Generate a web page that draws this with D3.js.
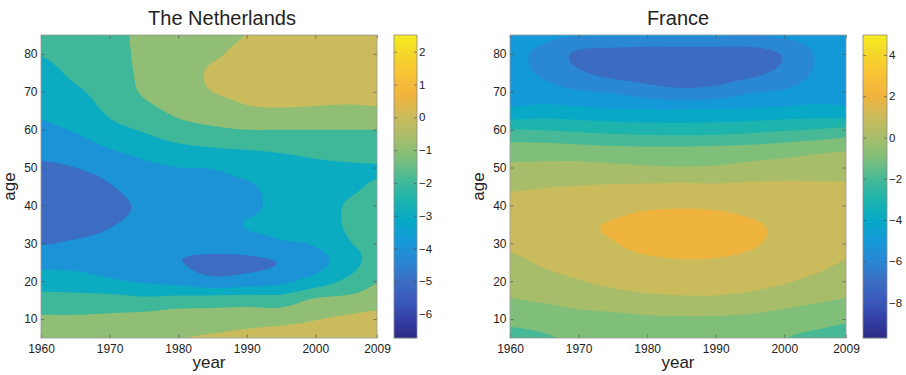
<!DOCTYPE html>
<html><head><meta charset="utf-8">
<script src="https://cdn.jsdelivr.net/npm/d3@7"></script>
<style>
body{margin:0;background:#fff}
svg{display:block}
text{font-family:"Liberation Sans",Arial,Helvetica,sans-serif;fill:#222}
</style>
</head><body>
<svg id="c" width="906" height="375"></svg>
<script>
// ---------- data ----------
const years = [1960,1965,1970,1975,1980,1985,1990,1995,2000,2005,2009];
const ages  = [5,10,15,20,25,30,35,40,45,50,55,60,65,70,75,80,85];
const xTickValues = [1960,1970,1980,1990,2000,2009];
const yTickValues = [10,20,30,40,50,60,70,80];
const nlColorTicks = [-6,-5,-4,-3,-2,-1,0,1,2];
const frColorTicks = [-8,-6,-4,-2,0,2,4];
const nlColorRange = [-6.73, 2.51];
const frColorRange = [-9.72, 4.97];

// one array per year (values over ages 5..85)
const nlValues = [
  [-0.4,-0.85,-1.6,-2.5,-3.3,-4.05,-4.4,-4.55,-4.45,-4.15,-3.7,-3.2,-2.85,-2.6,-2.35,-1.95,-1.6],
  [-0.45,-0.85,-1.65,-2.55,-3.35,-3.9,-4.3,-4.45,-4.3,-4.0,-3.5,-2.9,-2.5,-2.15,-1.8,-1.5,-1.3],
  [-0.45,-0.8,-1.6,-2.85,-3.5,-3.8,-4.05,-4.25,-4.05,-3.7,-3.0,-2.3,-1.85,-1.6,-1.5,-1.4,-1.35],
  [-0.4,-0.65,-1.75,-3.1,-3.6,-3.75,-3.8,-3.85,-3.6,-3.25,-2.6,-1.9,-1.3,-0.9,-0.8,-0.75,-0.7],
  [-0.05,-0.45,-1.6,-3.3,-3.95,-3.7,-3.6,-3.55,-3.35,-3.0,-2.25,-1.38,-0.8,-0.45,-0.4,-0.3,-0.25],
  [0.1,-0.55,-1.5,-3.7,-4.3,-3.5,-3.55,-3.5,-3.35,-2.95,-2.05,-1.15,-0.5,0.0,0.1,-0.1,-0.2],
  [0.3,-0.45,-1.45,-3.55,-4.2,-3.4,-2.95,-3.3,-3.15,-2.6,-1.95,-1.0,-0.15,0.2,0.3,0.2,0.02],
  [0.5,-0.35,-1.5,-3.25,-3.95,-3.1,-2.75,-2.65,-2.6,-2.35,-1.85,-1.0,-0.1,0.3,0.4,0.4,0.35],
  [0.65,-0.05,-0.85,-2.55,-3.4,-2.9,-2.6,-2.45,-2.4,-2.2,-1.7,-1.0,-0.15,0.3,0.45,0.5,0.5],
  [0.8,0.2,-0.7,-1.75,-2.4,-2.05,-1.85,-1.9,-2.15,-2.1,-1.6,-1.0,-0.2,0.3,0.5,0.55,0.55],
  [0.95,0.4,-0.5,-1.05,-1.6,-1.75,-1.5,-1.6,-1.9,-2.05,-1.6,-1.0,-0.15,0.35,0.5,0.55,0.55]
];
const frValues = [
  [-1.35,-0.69,-0.06,0.36,0.76,1.2,1.5,1.3,0.85,0.2,-0.6,-1.97,-3.8,-4.45,-4.75,-4.8,-4.55],
  [-1.12,-0.5,0.1,0.65,1.15,1.55,1.75,1.5,0.95,0.25,-0.6,-2.05,-3.6,-4.6,-5.15,-5.25,-4.8],
  [-0.75,-0.3,0.3,0.95,1.45,1.8,1.9,1.65,1.03,0.3,-0.7,-2.2,-3.7,-4.9,-5.85,-6.2,-4.95],
  [-0.6,-0.25,0.5,1.25,1.7,1.97,2.05,1.7,1.1,0.2,-0.8,-2.35,-3.85,-5.1,-6.3,-6.45,-4.9],
  [-0.55,-0.15,0.7,1.45,1.85,2.2,2.3,1.85,1.15,0.1,-0.85,-2.45,-3.9,-5.5,-6.5,-6.6,-4.9],
  [-0.5,-0.12,0.8,1.5,1.92,2.35,2.4,1.9,1.2,0.05,-0.85,-2.5,-3.9,-5.75,-6.6,-6.6,-4.9],
  [-0.5,-0.12,0.8,1.5,1.9,2.33,2.35,1.85,1.15,0.1,-0.8,-2.45,-3.85,-5.6,-6.5,-6.6,-4.9],
  [-0.55,-0.2,0.65,1.35,1.75,2.1,2.1,1.7,1.2,0.3,-0.7,-2.3,-3.8,-5.1,-6.25,-6.5,-5.0],
  [-0.97,-0.4,0.35,1.1,1.5,1.8,1.85,1.6,1.2,0.45,-0.55,-2.1,-3.7,-4.85,-5.7,-5.9,-4.85],
  [-1.25,-0.6,0.1,0.75,1.25,1.55,1.65,1.5,1.15,0.55,-0.3,-1.95,-3.6,-4.45,-4.85,-4.9,-4.6],
  [-1.5,-0.8,-0.07,0.5,0.95,1.3,1.45,1.38,1.12,0.6,-0.15,-1.75,-3.75,-4.35,-4.7,-4.75,-4.5]
];

// colormap (parula-like, as printed)
const cmapStops  = [0, 0.06, 0.12, 0.187, 0.25, 0.32, 0.39, 0.457, 0.525, 0.593, 0.661, 0.729, 0.797, 0.86, 0.93, 1];
const cmapColors = ["#2d2a84","#333fa6","#3a58bc","#3c6dc2","#2a86d4","#1499d8","#07a9c6","#1db4ad",
                    "#47b996","#7fbf7a","#a7bd6a","#cabb5c","#efb43e","#f9bf36","#f5d52b","#f6ea1f"];
const cmap = d3.scaleLinear().domain(cmapStops).range(cmapColors).interpolate(d3.interpolateRgb).clamp(true);

// ---------- helpers ----------
function cubic(p0,p1,p2,p3,t){
  return p1 + 0.5*t*(p2-p0 + t*(2*p0-5*p1+4*p2-p3 + t*(3*(p1-p2)+p3-p0)));
}
function sampler(values){
  const nc = values.length, nr = values[0].length;
  const get = (c,r) => values[Math.max(0,Math.min(nc-1,c))][Math.max(0,Math.min(nr-1,r))];
  return (fc, fr) => {
    const c = Math.min(Math.floor(fc), nc-1), r = Math.min(Math.floor(fr), nr-1);
    const tc = fc - c, tr = fr - r;
    const cols = [];
    for (let k=-1;k<=2;k++){
      cols.push(cubic(get(c+k,r-1),get(c+k,r),get(c+k,r+1),get(c+k,r+2),tr));
    }
    return cubic(cols[0],cols[1],cols[2],cols[3],tc);
  };
}

const svg = d3.select("#c");
const TOP = 35, BOTTOM = 338;

function panel(o){
  const g = svg.append("g");
  const x = d3.scaleLinear().domain([years[0], years[years.length-1]]).range([o.left, o.right]);
  const y = d3.scaleLinear().domain([ages[0], ages[ages.length-1]]).range([BOTTOM, TOP]);
  const W = o.right - o.left, H = BOTTOM - TOP;
  const nx = Math.round(W/1.5), ny = Math.round(H/1.5);
  const yearIdx = d3.scaleLinear().domain(years).range(d3.range(years.length)).clamp(true);
  const ageIdx = d3.scaleLinear().domain(ages).range(d3.range(ages.length)).clamp(true);
  const f = sampler(o.values);
  const gx = d3.scaleLinear().domain([0, nx]).range([o.left, o.right]);
  const gy = d3.scaleLinear().domain([0, ny]).range([TOP, BOTTOM]);
  const grid = new Float64Array(nx*ny);
  for (let j=0;j<ny;j++){
    const ag = y.invert(gy(j+0.5));
    for (let i=0;i<nx;i++){
      const yr = x.invert(gx(i+0.5));
      grid[j*nx+i] = f(yearIdx(yr), ageIdx(ag));
    }
  }
  const cNorm = d3.scaleLinear().domain(o.crange).range([0,1]);
  const color = v => cmap(cNorm(v));
  const lo = Math.floor(d3.min(grid)), hi = Math.ceil(d3.max(grid));
  const thresholds = d3.range(lo+1, hi);

  const clipId = "clip"+o.id;
  svg.append("clipPath").attr("id", clipId).append("rect")
    .attr("x", o.left).attr("y", TOP).attr("width", W).attr("height", H);
  const plot = g.append("g").attr("clip-path", `url(#${clipId})`);
  plot.append("rect").attr("x", o.left).attr("y", TOP).attr("width", W).attr("height", H)
    .attr("fill", color(lo));
  const proj = d3.geoTransform({point(px, py){ this.stream.point(gx(px), gy(py)); }});
  const path = d3.geoPath(proj);
  const contours = d3.contours().size([nx, ny]).thresholds(thresholds)(grid);
  plot.selectAll("path").data(contours).join("path")
    .attr("d", path).attr("fill", d => color(d.value)).attr("stroke", "none");

  // axes (ticks inward, MATLAB style)
  const tickStyle = sel => {
    sel.select(".domain").remove();
    sel.selectAll(".tick line").attr("stroke", "#444").attr("stroke-width", 0.6);
    sel.selectAll("text").attr("font-size", 12).attr("fill", "#262626")
       .attr("font-family", '"Liberation Sans",Arial,sans-serif');
  };
  g.append("g").attr("transform", `translate(0,${BOTTOM})`)
    .call(d3.axisBottom(x).tickValues(xTickValues).tickFormat(d3.format("d")).tickSize(-3.5).tickPadding(6.5))
    .call(tickStyle);
  g.append("g").attr("transform", `translate(0,${TOP})`)
    .call(d3.axisTop(x).tickValues(xTickValues).tickFormat("").tickSize(-3.5))
    .call(tickStyle);
  g.append("g").attr("transform", `translate(${o.left},0)`)
    .call(d3.axisLeft(y).tickValues(yTickValues).tickSize(-3.5).tickPadding(3.5))
    .call(tickStyle);
  g.append("g").attr("transform", `translate(${o.right},0)`)
    .call(d3.axisRight(y).tickValues(yTickValues).tickFormat("").tickSize(-3.5))
    .call(tickStyle);
  g.append("rect").attr("x", o.left).attr("y", TOP).attr("width", W).attr("height", H)
    .attr("fill", "none").attr("stroke", "#9a9a9a").attr("stroke-width", 0.8);

  // colorbar
  const cb = d3.scaleLinear().domain(o.crange).range([BOTTOM, TOP]);
  const cbW = o.cbRight - o.cbLeft;
  g.append("g").selectAll("rect").data(d3.range(TOP, BOTTOM)).join("rect")
    .attr("x", o.cbLeft).attr("y", d => d).attr("width", cbW).attr("height", 1.2)
    .attr("fill", d => color(cb.invert(d + 0.5)));
  g.append("g").attr("transform", `translate(${o.cbRight},0)`)
    .call(d3.axisRight(cb).tickValues(o.cticks).tickSize(-3).tickPadding(2))
    .call(tickStyle).selectAll("text").attr("font-size", 11.5);
  g.append("g").attr("transform", `translate(${o.cbLeft},0)`)
    .call(d3.axisLeft(cb).tickValues(o.cticks).tickFormat("").tickSize(-3))
    .call(tickStyle);
  g.append("rect").attr("x", o.cbLeft).attr("y", TOP).attr("width", cbW).attr("height", H)
    .attr("fill", "none").attr("stroke", "#8a8a8a").attr("stroke-width", 0.8);

  // labels
  g.append("text").attr("x", o.titleX).attr("y", 25).attr("text-anchor", "middle")
    .attr("font-size", 20).attr("fill", "#1a1a1a").text(o.title);
  g.append("text").attr("x", (o.left+o.right)/2).attr("y", 367.5).attr("text-anchor", "middle")
    .attr("font-size", 17).attr("fill", "#1a1a1a").text("year");
  g.append("text").attr("transform", `translate(${o.left-26},${(TOP+BOTTOM)/2}) rotate(-90)`)
    .attr("text-anchor", "middle").attr("font-size", 17).attr("fill", "#1a1a1a").text("age");
}

panel({id:"nl", title:"The Netherlands", titleX:222, left:41, right:377, cbLeft:394, cbRight:417,
       values:nlValues, crange:nlColorRange, cticks:nlColorTicks});
panel({id:"fr", title:"France", titleX:678, left:510, right:846, cbLeft:863, cbRight:887,
       values:frValues, crange:frColorRange, cticks:frColorTicks});
</script>
</body></html>
